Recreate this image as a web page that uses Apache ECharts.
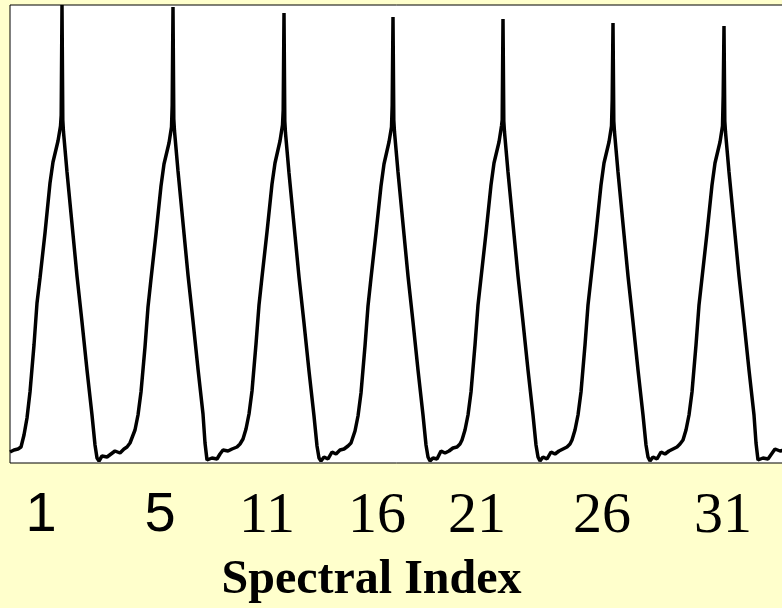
<!DOCTYPE html>
<html>
<head>
<meta charset="utf-8">
<script src="https://cdn.jsdelivr.net/npm/echarts@6/dist/echarts.min.js"></script>
<style>
html,body{margin:0;padding:0;background:#FFFFCC;}
#chart{width:782px;height:608px;}
</style>
</head>
<body>
<div id="chart"></div>
<script>
// sample position along the concatenated spectrum
const samplePos = [
  0, 4, 8, 11, 14, 17, 20, 24, 27, 30, 35, 40, 43, 48, 50.5, 51.2, 52, 52.8, 53.5, 57, 62, 67, 72, 77, 82, 85, 87, 89, 92, 97, 101, 105, 110, 114, 117, 120,
  122, 125, 128, 131, 135, 138, 141, 146, 151, 154, 159, 161.5, 162.2, 163, 163.8, 164.5, 168, 173, 178, 183, 188, 193, 195, 197, 199, 202, 207, 210, 213, 218, 222, 227, 230,
  233, 236, 239, 242, 246, 249, 252, 257, 262, 265, 270, 272.5, 273.2, 274, 274.8, 275.5, 279, 284, 289, 294, 299, 304, 307, 309, 311, 314, 318, 322, 326, 330, 334, 338, 341,
  342, 345, 348, 351, 355, 358, 361, 366, 371, 374, 379, 381.5, 382.2, 383, 383.8, 384.5, 388, 393, 398, 403, 408, 413, 416, 418, 420, 423, 427, 431, 435, 439, 443, 447, 450,
  452, 455, 458, 461, 465, 468, 471, 476, 481, 484, 489, 491.5, 492.2, 493, 493.8, 494.5, 498, 503, 508, 513, 518, 523, 526, 528, 530, 533, 537, 541, 545, 549, 553, 557, 560,
  562, 565, 568, 571, 575, 578, 581, 586, 591, 594, 599, 601.5, 602.2, 603, 603.8, 604.5, 608, 613, 618, 623, 628, 633, 636, 638, 640, 643, 647, 651, 655, 659, 663, 667, 670,
  673, 676, 679, 682, 686, 689, 692, 697, 702, 705, 710, 712.5, 713.2, 714, 714.8, 715.5, 719, 724, 729, 734, 739, 744, 746, 748, 750, 753, 758, 765, 770, 775
];
// intensity
const intensity = [
  11, 13, 14, 16, 28, 45, 71, 118, 160, 185, 230, 280, 301, 322, 337, 348, 458, 343, 331, 291, 239, 187, 141, 93, 48, 18, 5, 2, 7, 6, 9, 12, 10, 14, 16, 20,
  22, 33, 48, 71, 116, 156, 184, 229, 277, 299, 320, 336, 358, 456, 344, 332, 292, 240, 188, 142, 94, 49, 20, 3, 2, 5, 4, 9, 13, 12, 14, 16, 19,
  24, 34, 49, 72, 119, 158, 186, 231, 279, 300, 322, 338, 353, 450, 342, 330, 290, 238, 186, 140, 92, 47, 17, 5, 2, 6, 4, 11, 9, 13, 14, 17, 20,
  22, 32, 47, 70, 117, 157, 185, 230, 277, 299, 321, 336, 358, 446, 343, 331, 291, 239, 187, 141, 93, 48, 18, 6, 2, 5, 4, 12, 10, 12, 15, 16, 19,
  23, 33, 48, 71, 118, 158, 185, 230, 278, 300, 321, 337, 343, 444, 342, 331, 291, 239, 187, 141, 93, 48, 18, 6, 2, 6, 4, 11, 9, 12, 14, 16, 19,
  23, 33, 48, 71, 118, 158, 185, 230, 278, 300, 321, 337, 363, 440, 342, 331, 291, 239, 187, 141, 93, 48, 18, 6, 2, 6, 4, 11, 9, 12, 14, 16, 19,
  23, 33, 48, 71, 118, 158, 185, 230, 278, 300, 321, 337, 368, 437, 342, 331, 291, 239, 187, 141, 93, 48, 20, 3, 2, 5, 4, 14, 12, 13
];
// tick positions and labels
const tickPos = [31, 150, 257, 367, 467, 592, 713];
const tickLabels = ['1', '5', '11', '16', '21', '26', '31'];
const sansTicks = ['1', '5'];
const axisTitle = 'Spectral Index';

const seriesData = samplePos.map((x, i) => [x, intensity[i]]);

const chart = echarts.init(document.getElementById('chart'), null, {renderer: 'canvas'});
chart.setOption({
  backgroundColor: '#FFFFCC',
  animation: false,
  grid: {
    left: 10, top: 5, width: 775, bottom: 145,
    outerBoundsMode: 'none',
    containLabel: false,
    show: true, backgroundColor: '#FFFFFF', borderColor: '#000000', borderWidth: 1
  },
  xAxis: {
    type: 'value', min: 0, max: 775,
    splitLine: {show: false},
    axisLine: {show: false},
    axisTick: {show: false},
    axisLabel: {
      customValues: tickPos,
      margin: 25,
      formatter: function (v) {
        const i = tickPos.indexOf(v);
        const t = i >= 0 ? tickLabels[i] : '';
        return sansTicks.indexOf(t) >= 0 ? '{s|' + t + '}' : '{t|' + t + '}';
      },
      rich: {
        s: {fontFamily: 'Liberation Sans', fontSize: 56, color: '#000000'},
        t: {fontFamily: 'Liberation Serif', fontSize: 58, color: '#000000'}
      }
    },
    name: axisTitle,
    nameLocation: 'middle',
    nameGap: 94,
    nameTextStyle: {
      fontFamily: 'Liberation Serif', fontWeight: 'bold', fontSize: 48, color: '#000000',
      padding: [0, 52, 0, 0]
    }
  },
  yAxis: {
    type: 'value', min: 0, max: 458, show: false
  },
  series: [{
    type: 'line',
    data: seriesData,
    showSymbol: false,
    lineStyle: {color: '#000000', width: 3.5},
    clip: true
  }]
});
</script>
</body>
</html>
